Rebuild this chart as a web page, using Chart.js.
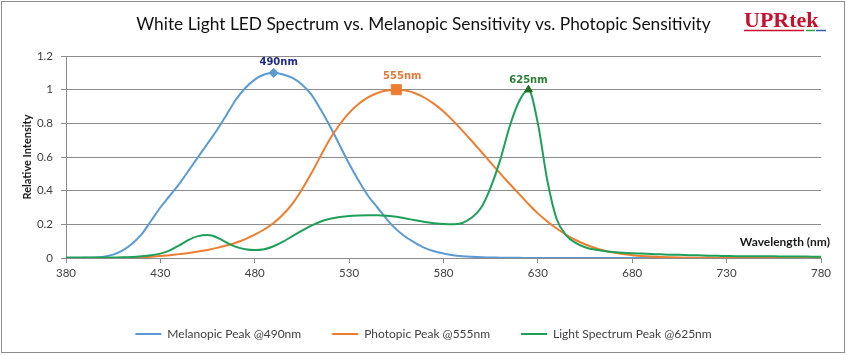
<!DOCTYPE html>
<html><head><meta charset="utf-8">
<script src="https://cdn.jsdelivr.net/npm/chart.js@4.4.1/dist/chart.umd.min.js"></script>
<style>html,body{margin:0;padding:0;background:#fff;}#wrap{position:relative;width:847px;height:355px;}</style>
</head><body><div id="wrap"><canvas id="c" width="847" height="355"></canvas></div>
<script>
const chartTitle = 'White Light LED Spectrum vs. Melanopic Sensitivity vs. Photopic Sensitivity';
const seriesNames = ['Melanopic Peak @490nm', 'Photopic Peak @555nm', 'Light Spectrum Peak @625nm'];
const xAxisTitle = 'Wavelength (nm)';
const yAxisTitle = 'Relative Intensity';
const xTickValues = [380, 430, 480, 530, 580, 630, 680, 730, 780];
const peakWavelengths = [490, 555, 625];
const peakLabels = ['490nm', '555nm', '625nm'];

const wavelengths = [380,385,390,395,400,405,410,415,420,425,430,435,440,445,450,455,460,465,470,475,480,485,490,495,500,505,510,515,520,525,530,535,540,545,550,555,560,565,570,575,580,585,590,595,600,605,610,615,620,625,630,635,640,645,650,655,660,665,670,675,680,685,690,695,700,705,710,715,720,725,730,735,740,745,750,755,760,765,770,775,780];

const melanopic = [0,0,0.001,0.003,0.008,0.02,0.045,0.085,0.14,0.22,0.3,0.37,0.44,0.52,0.6,0.68,0.76,0.85,0.94,1.01,1.06,1.09,1.1,1.09,1.07,1.03,0.97,0.88,0.78,0.67,0.56,0.46,0.37,0.3,0.23,0.17,0.125,0.09,0.06,0.04,0.027,0.017,0.011,0.007,0.004,0.003,0.002,0.001,0.001,0,0,0,0,0,0,0,0,0,0,0,0,0,0,0,0,0,0,0,0,0,0,0,0,0,0,0,0,0,0,0,0];

const photopic = [0,0.0001,0.0001,0.0002,0.0004,0.0006,0.0012,0.0022,0.004,0.0073,0.0116,0.0168,0.023,0.0298,0.038,0.048,0.06,0.0739,0.091,0.1126,0.139,0.1693,0.208,0.2586,0.323,0.4073,0.503,0.6082,0.71,0.7932,0.862,0.9149,0.954,0.9803,0.995,1.0,0.995,0.9786,0.952,0.9154,0.87,0.8163,0.757,0.6949,0.631,0.5668,0.503,0.4412,0.381,0.321,0.265,0.217,0.175,0.1382,0.107,0.0816,0.061,0.0446,0.032,0.0232,0.017,0.0119,0.0082,0.0057,0.0041,0.0029,0.0021,0.0015,0.001,0.0007,0.0005,0.0004,0.0002,0.0002,0.0001,0.0001,0.0001,0,0,0,0];

const lightSpectrum = [0.003,0.003,0.003,0.003,0.003,0.003,0.004,0.006,0.01,0.016,0.026,0.045,0.075,0.108,0.13,0.136,0.122,0.092,0.066,0.052,0.047,0.052,0.07,0.097,0.13,0.162,0.192,0.217,0.233,0.243,0.25,0.253,0.254,0.254,0.251,0.245,0.235,0.224,0.214,0.207,0.202,0.2,0.208,0.24,0.3,0.42,0.58,0.78,0.93,1.0,0.8,0.46,0.23,0.135,0.09,0.064,0.05,0.042,0.036,0.031,0.028,0.026,0.024,0.022,0.02,0.019,0.017,0.016,0.014,0.013,0.012,0.011,0.011,0.01,0.01,0.01,0.009,0.009,0.009,0.008,0.008];

// styles
const lineColors = ['#5b9bd5', '#ed7d31', '#1fa05a'];
const markerColors = ['#5b9bd5', '#ed7d31', '#1e6e23'];
const markerStyles = ['rectRot', 'rect', 'triangle'];
const markerRadii = [4.5, 7.1, 4.5];
const peakLabelColors = ['#1f2a86', '#e07b39', '#2a7f35'];
const peakLabelDx = [5, 6, 0];
const peakLabelDy = [-10, -13.5, -9];

function fitFontSize(text, weight, family, target) {
  const c = document.createElement('canvas').getContext('2d');
  c.font = weight + ' 100px ' + family;
  return 100 * target / c.measureText(text).width;
}
const titleSize = fitFontSize(chartTitle, 'normal', 'Lato', 575);
const titlePadTop = 24 - 0.6 * titleSize;
const titlePadBottom = 56 - titlePadTop - 1.2 * titleSize;

const seriesValues = [melanopic, photopic, lightSpectrum];
const datasets = seriesValues.map((vals, i) => ({
  label: seriesNames[i],
  data: wavelengths.map((w, j) => ({x: w, y: vals[j]})),
  borderColor: lineColors[i],
  backgroundColor: lineColors[i],
  borderWidth: 2,
  fill: false,
  cubicInterpolationMode: 'monotone',
  pointRadius: wavelengths.map(w => w === peakWavelengths[i] ? markerRadii[i] : 0),
  pointHoverRadius: 0,
  pointStyle: markerStyles[i],
  pointBackgroundColor: markerColors[i],
  pointBorderColor: markerColors[i],
  pointBorderWidth: 1,
  order: 2 - i
}));

const decor = {
  id: 'decor',
  beforeDraw(chart) {
    const {ctx, width, height} = chart;
    ctx.save();
    ctx.fillStyle = '#fff';
    ctx.fillRect(0, 0, width, height);
    ctx.strokeStyle = '#8c8c8c';
    ctx.lineWidth = 1;
    ctx.strokeRect(1.5, 1.5, width - 4, height - 4);
    ctx.restore();
  },
  afterDraw(chart) {
    const {ctx, scales: {x, y}, chartArea} = chart;
    ctx.save();
    ctx.textAlign = 'center';
    ctx.textBaseline = 'middle';
    ctx.font = 'bold 10px "DejaVu Sans"';
    peakWavelengths.forEach((w, i) => {
      const idx = wavelengths.indexOf(w);
      const v = seriesValues[i][idx];
      ctx.fillStyle = peakLabelColors[i];
      ctx.fillText(peakLabels[i], x.getPixelForValue(w) + peakLabelDx[i], y.getPixelForValue(v) + peakLabelDy[i]);
    });
    ctx.font = 'bold 12px Lato';
    ctx.fillStyle = '#1a1a1a';
    ctx.textAlign = 'right';
    ctx.fillText(xAxisTitle, chartArea.right + 9, y.getPixelForValue(0) - 16);
    // logo
    ctx.font = 'bold 22px "Liberation Serif"';
    ctx.fillStyle = '#c8102e';
    ctx.textAlign = 'left';
    ctx.textBaseline = 'alphabetic';
    ctx.fillText('UPRtek', 744, 27);
    ctx.lineWidth = 1.5;
    [['#c8102e', 744, 804], ['#2ea043', 806, 815], ['#2f5fb0', 816, 826]].forEach(s => {
      ctx.strokeStyle = s[0];
      ctx.beginPath(); ctx.moveTo(s[1], 30.5); ctx.lineTo(s[2], 30.5); ctx.stroke();
    });
    ctx.restore();
  }
};

Chart.defaults.font.family = 'Lato';
Chart.defaults.color = '#404040';

new Chart(document.getElementById('c'), {
  type: 'line',
  data: {datasets},
  plugins: [decor],
  options: {
    responsive: false,
    animation: false,
    devicePixelRatio: 1,
    layout: {padding: {left: 26, right: 26, top: 0, bottom: 5}},
    plugins: {
      title: {display: true, text: chartTitle, color: '#111', font: {family: 'Lato', size: titleSize, weight: 'normal'}, padding: {top: titlePadTop, bottom: titlePadBottom}},
      legend: {
        position: 'bottom',
        labels: {
          boxWidth: 26, boxHeight: 2, padding: 31, color: '#404040', font: {size: 12},
          sort: (a, b) => a.datasetIndex - b.datasetIndex,
          generateLabels: (chart) => Chart.defaults.plugins.legend.labels.generateLabels(chart).map(l => Object.assign(l, {fillStyle: l.strokeStyle, lineWidth: 0}))
        }
      },
      tooltip: {enabled: false}
    },
    scales: {
      x: {
        type: 'linear', min: 380, max: 780,
        afterBuildTicks: ax => { ax.ticks = xTickValues.map(v => ({value: v})); },
        afterFit: ax => { ax.height = 39; },
        grid: {drawOnChartArea: false, drawTicks: true, tickLength: 5, color: '#8c8c8c'},
        border: {color: '#8c8c8c'},
        ticks: {font: {size: 11.5}, color: '#404040', padding: 3, maxRotation: 0, autoSkip: false}
      },
      y: {
        min: 0, max: 1.2,
        ticks: {stepSize: 0.2, font: {size: 11.5}, color: '#404040', padding: 8,
          callback: v => String(Math.round(v * 10) / 10)},
        grid: {color: '#8c8c8c', tickLength: 5},
        border: {color: '#8c8c8c'},
        title: {display: true, text: yAxisTitle, color: '#1a1a1a', font: {size: 11, weight: 'bold'}, padding: {top: -5.6, bottom: 0}},
        afterFit: ax => { ax.width = 40; }
      }
    }
  }
});
</script></body></html>
